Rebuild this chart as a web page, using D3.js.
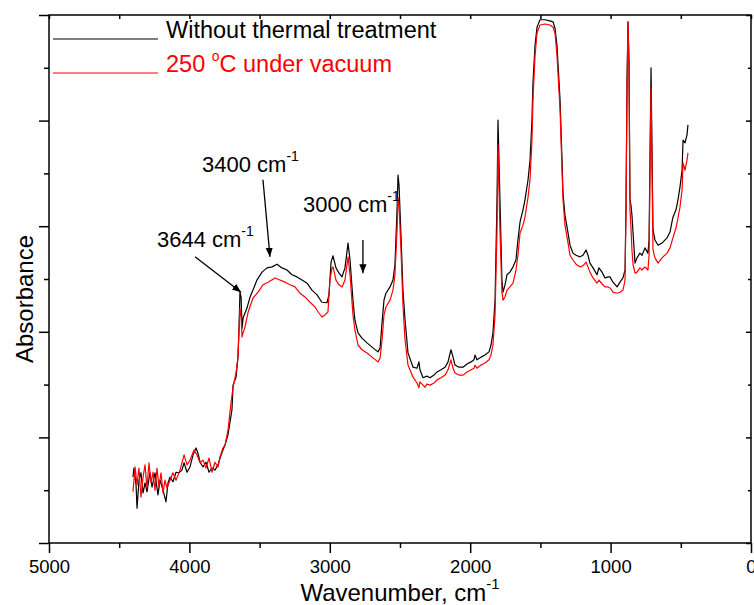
<!DOCTYPE html>
<html>
<head>
<meta charset="utf-8">
<script src="https://cdn.jsdelivr.net/npm/d3@7"></script>
<style>
  body { margin: 0; background: #fff; }
  svg { display: block; font-family: Arial, "Liberation Sans", sans-serif; }
</style>
</head>
<body>
<div id="chart"></div>
<script>
// spectrum: wavenumber (cm-1) and absorbance (arb. units)
const blackWavenumber = [
  4402, 4395, 4380, 4373, 4359, 4345, 4330, 4316, 4302, 4281, 4266, 4245, 4224, 4209, 4188, 4167,
  4152, 4138, 4117, 4095, 4074, 4053, 4038, 4017, 3996, 3974, 3953, 3939, 3924, 3903, 3882, 3860,
  3839, 3818, 3796, 3782, 3761, 3746, 3725, 3697, 3689, 3668, 3654, 3647, 3640, 3632, 3625, 3618,
  3590, 3568, 3547, 3519, 3483, 3447, 3412, 3376, 3340, 3305, 3269, 3234, 3198, 3162, 3127, 3091,
  3056, 3020, 3006, 2991, 2977, 2956, 2934, 2913, 2892, 2870, 2856, 2835, 2821, 2799, 2771, 2735,
  2699, 2657, 2642, 2628, 2614, 2600, 2571, 2550, 2536, 2521, 2514, 2507, 2493, 2479, 2464, 2443,
  2407, 2379, 2365, 2358, 2336, 2308, 2286, 2258, 2236, 2208, 2179, 2158, 2137, 2122, 2108, 2080,
  2051, 2023, 1994, 1973, 1966, 1952, 1923, 1895, 1866, 1852, 1838, 1823, 1809, 1802, 1788, 1774,
  1766, 1752, 1738, 1717, 1695, 1674, 1660, 1645, 1624, 1610, 1588, 1574, 1560, 1553, 1538, 1524,
  1503, 1467, 1432, 1410, 1396, 1382, 1368, 1360, 1346, 1339, 1325, 1303, 1289, 1268, 1246, 1218,
  1197, 1175, 1161, 1147, 1125, 1097, 1083, 1061, 1040, 1019, 1004, 983, 954, 933, 912, 897,
  890, 883, 876, 869, 862, 855, 848, 840, 826, 812, 791, 776, 755, 734, 726, 719,
  712, 705, 698, 684, 662, 634, 598, 577, 556, 534, 520, 506, 491, 484, 470, 456, 449
];
const blackAbsorbance = [
  0.125, 0.142, 0.110, 0.066, 0.119, 0.133, 0.095, 0.114, 0.097, 0.133, 0.106, 0.133, 0.091, 0.119, 0.100, 0.078,
  0.114, 0.125, 0.116, 0.134, 0.133, 0.138, 0.152, 0.134, 0.144, 0.167, 0.180, 0.170, 0.153, 0.144, 0.153, 0.134,
  0.142, 0.138, 0.148, 0.161, 0.176, 0.186, 0.205, 0.252, 0.299, 0.314, 0.352, 0.403, 0.475, 0.466, 0.407, 0.426,
  0.445, 0.466, 0.479, 0.498, 0.513, 0.521, 0.523, 0.528, 0.521, 0.517, 0.508, 0.504, 0.498, 0.492, 0.479, 0.470,
  0.456, 0.455, 0.470, 0.532, 0.544, 0.521, 0.511, 0.504, 0.521, 0.568, 0.536, 0.460, 0.422, 0.398, 0.388, 0.379,
  0.371, 0.362, 0.369, 0.417, 0.460, 0.473, 0.485, 0.498, 0.527, 0.631, 0.697, 0.678, 0.583, 0.479, 0.422, 0.360,
  0.333, 0.331, 0.343, 0.328, 0.313, 0.316, 0.313, 0.318, 0.324, 0.328, 0.333, 0.343, 0.366, 0.352, 0.337, 0.333,
  0.333, 0.339, 0.343, 0.347, 0.356, 0.347, 0.352, 0.356, 0.362, 0.375, 0.398, 0.460, 0.650, 0.801, 0.650, 0.498,
  0.475, 0.489, 0.508, 0.513, 0.523, 0.536, 0.574, 0.608, 0.631, 0.650, 0.688, 0.725, 0.801, 0.871, 0.943, 0.977,
  0.991, 0.991, 0.989, 0.987, 0.975, 0.943, 0.877, 0.839, 0.725, 0.663, 0.621, 0.587, 0.564, 0.549, 0.545, 0.542,
  0.545, 0.555, 0.545, 0.530, 0.521, 0.508, 0.521, 0.513, 0.502, 0.504, 0.504, 0.494, 0.485, 0.494, 0.502, 0.517,
  0.650, 0.877, 0.987, 0.915, 0.650, 0.640, 0.621, 0.587, 0.530, 0.540, 0.549, 0.545, 0.559, 0.549, 0.574, 0.744,
  0.900, 0.744, 0.593, 0.574, 0.564, 0.568, 0.578, 0.589, 0.617, 0.631, 0.650, 0.674, 0.706, 0.763, 0.758, 0.773, 0.792
];

const redWavenumber = [
  4402, 4387, 4373, 4359, 4345, 4330, 4316, 4302, 4288, 4273, 4259, 4245, 4231, 4217, 4202, 4188,
  4174, 4160, 4138, 4117, 4095, 4067, 4038, 4017, 3996, 3967, 3946, 3924, 3903, 3882, 3860, 3839,
  3818, 3796, 3782, 3761, 3746, 3725, 3704, 3689, 3668, 3654, 3647, 3640, 3632, 3625, 3618, 3604,
  3583, 3547, 3511, 3476, 3440, 3390, 3355, 3319, 3283, 3248, 3212, 3177, 3141, 3105, 3084, 3056,
  3034, 3013, 2999, 2984, 2977, 2956, 2934, 2913, 2892, 2870, 2856, 2835, 2821, 2799, 2771, 2735,
  2699, 2657, 2642, 2628, 2614, 2600, 2571, 2550, 2536, 2521, 2514, 2507, 2493, 2479, 2464, 2443,
  2407, 2379, 2365, 2358, 2336, 2322, 2308, 2286, 2258, 2236, 2208, 2179, 2158, 2137, 2122, 2108,
  2080, 2051, 2023, 1994, 1973, 1966, 1952, 1923, 1895, 1866, 1852, 1838, 1823, 1809, 1802, 1788,
  1774, 1766, 1752, 1738, 1717, 1695, 1674, 1660, 1645, 1624, 1610, 1588, 1574, 1560, 1553, 1538,
  1524, 1503, 1467, 1432, 1410, 1396, 1382, 1368, 1360, 1346, 1339, 1325, 1303, 1289, 1268, 1246,
  1218, 1197, 1175, 1161, 1147, 1125, 1097, 1083, 1061, 1040, 1019, 1004, 983, 954, 933, 912,
  897, 890, 883, 876, 869, 862, 855, 848, 840, 826, 812, 791, 776, 755, 734, 726,
  719, 712, 705, 698, 684, 662, 634, 598, 577, 556, 534, 520, 506, 491, 484, 470, 456, 449
];
const redAbsorbance = [
  0.097, 0.144, 0.110, 0.142, 0.087, 0.125, 0.148, 0.104, 0.152, 0.114, 0.134, 0.100, 0.142, 0.106, 0.133, 0.095,
  0.119, 0.104, 0.119, 0.133, 0.119, 0.138, 0.167, 0.148, 0.157, 0.176, 0.167, 0.152, 0.157, 0.142, 0.161, 0.134,
  0.153, 0.144, 0.163, 0.180, 0.186, 0.214, 0.265, 0.295, 0.322, 0.352, 0.403, 0.445, 0.428, 0.390, 0.398, 0.409,
  0.436, 0.464, 0.475, 0.489, 0.494, 0.502, 0.498, 0.494, 0.489, 0.485, 0.473, 0.466, 0.456, 0.447, 0.438, 0.428,
  0.432, 0.438, 0.498, 0.521, 0.523, 0.498, 0.489, 0.485, 0.498, 0.542, 0.508, 0.432, 0.403, 0.375, 0.366, 0.360,
  0.352, 0.343, 0.350, 0.384, 0.432, 0.447, 0.460, 0.479, 0.508, 0.593, 0.655, 0.640, 0.555, 0.451, 0.384, 0.337,
  0.314, 0.303, 0.294, 0.305, 0.299, 0.295, 0.301, 0.299, 0.303, 0.309, 0.313, 0.318, 0.328, 0.347, 0.331, 0.322,
  0.318, 0.318, 0.324, 0.328, 0.331, 0.337, 0.331, 0.337, 0.341, 0.347, 0.356, 0.375, 0.432, 0.593, 0.754, 0.593,
  0.475, 0.460, 0.466, 0.479, 0.485, 0.492, 0.517, 0.545, 0.587, 0.602, 0.617, 0.655, 0.688, 0.763, 0.839, 0.924,
  0.966, 0.981, 0.983, 0.981, 0.977, 0.966, 0.924, 0.858, 0.820, 0.706, 0.650, 0.602, 0.568, 0.545, 0.536, 0.528,
  0.523, 0.525, 0.532, 0.523, 0.513, 0.502, 0.492, 0.498, 0.491, 0.485, 0.485, 0.483, 0.475, 0.473, 0.475, 0.479,
  0.498, 0.631, 0.858, 0.987, 0.896, 0.631, 0.598, 0.555, 0.527, 0.511, 0.513, 0.521, 0.517, 0.523, 0.517, 0.545,
  0.706, 0.862, 0.706, 0.555, 0.540, 0.530, 0.540, 0.549, 0.559, 0.578, 0.597, 0.616, 0.636, 0.669, 0.720, 0.706, 0.725, 0.739
];

const xMajorTicks = [5000, 4000, 3000, 2000, 1000, 0];
const xMinorTicks = [4500, 3500, 2500, 1500, 500];
const yMajorTicks = [0, 0.2, 0.4, 0.6, 0.8, 1.0];
const yMinorTicks = [0.1, 0.3, 0.5, 0.7, 0.9];
const seriesNames = ["Without thermal treatment", "250 \u00B0C under vacuum"];

// annotations: label position and arrow (tail -> head) in data units
const peakNotes = [
  { label: "3644", tx: 4231, ty: 0.561, from: [3960, 0.542], to: [3632, 0.475] },
  { label: "3400", tx: 3910, ty: 0.703, from: [3476, 0.688], to: [3426, 0.542] },
  { label: "3000", tx: 3191, ty: 0.627, from: [2764, 0.574], to: [2764, 0.511] }
];

const width = 754;
const height = 605;
const margin = { top: 15, right: 3, bottom: 62, left: 49 };
const innerW = width - margin.left - margin.right;
const innerH = height - margin.top - margin.bottom;

const svg = d3.select("#chart")
  .append("svg")
  .attr("width", width)
  .attr("height", height);

svg.append("defs").append("marker")
  .attr("id", "head")
  .attr("viewBox", "0 0 10 10")
  .attr("refX", 10).attr("refY", 5)
  .attr("markerWidth", 9).attr("markerHeight", 9)
  .attr("markerUnits", "userSpaceOnUse")
  .attr("orient", "auto")
  .append("path")
  .attr("d", "M0,1 L10,5 L0,9 z")
  .attr("fill", "#000");

const g = svg.append("g")
  .attr("transform", `translate(${margin.left},${margin.top})`);

const xScale = d3.scaleLinear().domain([5000, 0]).range([0, innerW]);
const yScale = d3.scaleLinear().domain([0, 1]).range([innerH, 0]);

function drawAxis(axis, transform) {
  const a = g.append("g").attr("transform", transform).call(axis);
  a.select(".domain").remove();
  a.selectAll("line").attr("stroke", "#000").attr("stroke-width", 1.5);
  return a;
}

// bottom
const xb = drawAxis(d3.axisBottom(xScale).tickValues(xMajorTicks).tickSize(10).tickPadding(7).tickFormat(d3.format("d")),
  `translate(0,${innerH})`);
xb.selectAll("text").attr("font-size", "18.5px").attr("fill", "#000")
  .attr("font-family", "Arial, 'Liberation Sans', sans-serif");
drawAxis(d3.axisBottom(xScale).tickValues(xMinorTicks).tickSize(5).tickFormat(""), `translate(0,${innerH})`);
// top (inward)
drawAxis(d3.axisTop(xScale).tickValues(xMajorTicks.concat(xMinorTicks)).tickSize(-4).tickFormat(""), "translate(0,0)");
// left
drawAxis(d3.axisLeft(yScale).tickValues(yMajorTicks).tickSize(10).tickFormat(""), "translate(0,0)");
drawAxis(d3.axisLeft(yScale).tickValues(yMinorTicks).tickSize(5).tickFormat(""), "translate(0,0)");
// right (inward)
drawAxis(d3.axisRight(yScale).tickValues(yMajorTicks).tickSize(-5).tickFormat(""), `translate(${innerW},0)`);
drawAxis(d3.axisRight(yScale).tickValues(yMinorTicks).tickSize(-3).tickFormat(""), `translate(${innerW},0)`);

g.append("rect")
  .attr("width", innerW)
  .attr("height", innerH)
  .attr("fill", "none")
  .attr("stroke", "#000")
  .attr("stroke-width", 1.5);

const line = d3.line()
  .x(d => xScale(d[0]))
  .y(d => yScale(d[1]));

const blackData = blackWavenumber.map((w, i) => [w, blackAbsorbance[i]]);
const redData = redWavenumber.map((w, i) => [w, redAbsorbance[i]]);

g.append("path").datum(blackData)
  .attr("d", line).attr("fill", "none")
  .attr("stroke", "#000").attr("stroke-width", 1.2).attr("stroke-linejoin", "round");
g.append("path").datum(redData)
  .attr("d", line).attr("fill", "none")
  .attr("stroke", "#ff0000").attr("stroke-width", 1.2).attr("stroke-linejoin", "round");

// peak labels with arrows
peakNotes.forEach(n => {
  const t = g.append("text")
    .attr("x", xScale(n.tx)).attr("y", yScale(n.ty))
    .attr("font-size", "22px").attr("fill", "#000");
  t.append("tspan").text(n.label + " cm");
  t.append("tspan").attr("dy", -11).attr("font-size", "14px").text("-1");
  g.append("line")
    .attr("x1", xScale(n.from[0])).attr("y1", yScale(n.from[1]))
    .attr("x2", xScale(n.to[0])).attr("y2", yScale(n.to[1]))
    .attr("stroke", "#000").attr("stroke-width", 1.3)
    .attr("marker-end", "url(#head)");
});

// legend
const legend = g.append("g").attr("transform", "translate(4,0)");
const legendColors = ["#000", "#ff0000"];
seriesNames.forEach((name, i) => {
  const yy = 23 + i * 34;
  legend.append("line")
    .attr("x1", 0).attr("x2", 105).attr("y1", yy + 1).attr("y2", yy + 1)
    .attr("stroke", legendColors[i]).attr("stroke-width", 1.2);
  const t = legend.append("text")
    .attr("x", 113).attr("y", yy)
    .attr("font-size", "23.5px").attr("fill", legendColors[i]);
  if (i === 1) {
    t.append("tspan").text("250 ");
    t.append("tspan").attr("dy", -11).attr("font-size", "14px").text("o");
    t.append("tspan").attr("dy", 11).text("C under vacuum");
  } else {
    t.text(name);
  }
});

// axis titles
const xt = svg.append("text")
  .attr("x", margin.left + innerW / 2).attr("y", 601)
  .attr("text-anchor", "middle").attr("font-size", "24px").attr("fill", "#000");
xt.append("tspan").text("Wavenumber, cm");
xt.append("tspan").attr("dy", -12).attr("font-size", "15px").text("-1");

svg.append("text")
  .attr("transform", `translate(33,${margin.top + innerH / 2 + 20}) rotate(-90)`)
  .attr("text-anchor", "middle").attr("font-size", "24px").attr("fill", "#000")
  .text("Absorbance");
</script>
</body>
</html>
